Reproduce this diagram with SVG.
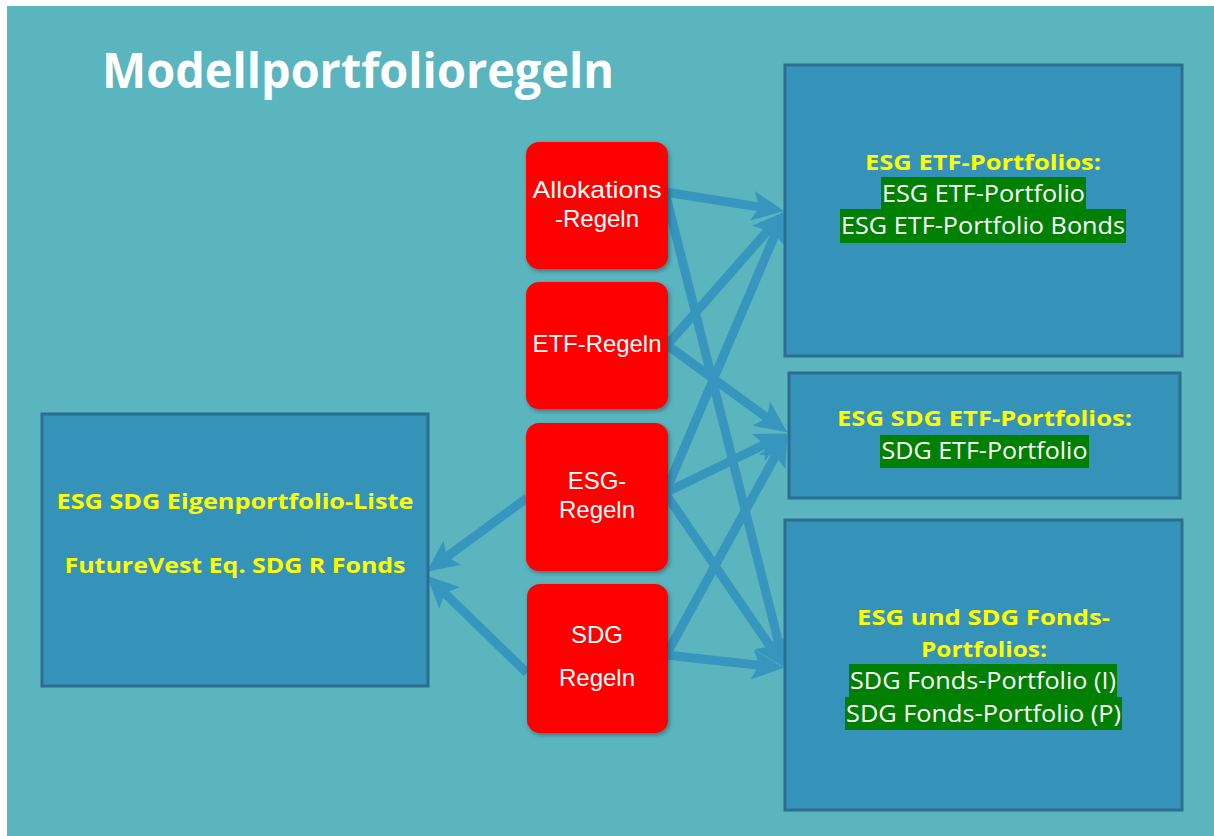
<svg xmlns="http://www.w3.org/2000/svg" width="1214" height="836" viewBox="0 0 1214 836">
<style>
.box{fill:#3593B9;stroke:#2B6F90;stroke-width:3}
.rule{fill:#FF0000}
.rt{font-family:"Liberation Sans",Arial,sans-serif;font-size:24px;fill:#FFFFFF;text-anchor:middle}
.yt{font-family:"Open Sans","Liberation Sans",sans-serif;font-size:22px;font-weight:bold;fill:#FFFF00;text-anchor:middle}
.wt{font-family:"Open Sans","Liberation Sans",sans-serif;font-size:23px;fill:#FFFFFF;text-anchor:middle}
.hl{fill:#008000}
.conn{stroke:#3896BE;stroke-width:9;fill:none;marker-end:url(#ah)}
</style>
<defs>
<marker id="ah" markerUnits="userSpaceOnUse" viewBox="0 0 32 30" refX="13" refY="15" markerWidth="32" markerHeight="30" orient="auto">
<path d="M0,0 L32,15 L0,30 L7,15 Z" fill="#3896BE"/>
</marker>
<filter id="sh" x="-10%" y="-10%" width="125%" height="125%">
<feDropShadow dx="1.5" dy="2" stdDeviation="2" flood-color="#000000" flood-opacity="0.35"/>
</filter>
</defs>
<rect x="0" y="0" width="1214" height="836" fill="#FFFFFF"/>
<rect x="7" y="6" width="1207" height="830" fill="#5AB5BF"/>
<text x="102" y="88" font-family="'Open Sans','Liberation Sans',sans-serif" font-size="48" font-weight="bold" fill="#FFFFFF" textLength="512" lengthAdjust="spacingAndGlyphs">Modellportfolioregeln</text>

<g id="connectors">
<line class="conn" x1="665" y1="192" x2="765.2" y2="207.9"/>
<line class="conn" x1="665" y1="192" x2="780.1" y2="648.6"/>
<line class="conn" x1="667" y1="345" x2="771.8" y2="226.0"/>
<line class="conn" x1="667" y1="345" x2="771.8" y2="421.2"/>
<line class="conn" x1="665" y1="493" x2="777.2" y2="229.4"/>
<line class="conn" x1="665" y1="493" x2="770.0" y2="441.8"/>
<line class="conn" x1="665" y1="493" x2="773.7" y2="651.5"/>
<line class="conn" x1="666" y1="655" x2="778.4" y2="450.5"/>
<line class="conn" x1="666" y1="655" x2="765.1" y2="665.8"/>
<line class="conn" x1="527" y1="498" x2="441.9" y2="560.4"/>
<line class="conn" x1="527" y1="673" x2="440.4" y2="588.9"/>
</g>

<g id="allokations">
<rect class="rule" x="526" y="142" width="142" height="127" rx="13" filter="url(#sh)"/>
<text class="rt" x="597" y="198" textLength="129" lengthAdjust="spacingAndGlyphs">Allokations</text>
<text class="rt" x="597" y="227">-Regeln</text>
</g>
<g id="etf-regeln">
<rect class="rule" x="526" y="282" width="142" height="127" rx="13" filter="url(#sh)"/>
<text class="rt" x="597" y="352" textLength="129" lengthAdjust="spacingAndGlyphs">ETF-Regeln</text>
</g>
<g id="esg-regeln">
<rect class="rule" x="526" y="423" width="142" height="148" rx="13" filter="url(#sh)"/>
<text class="rt" x="597" y="489">ESG-</text>
<text class="rt" x="597" y="518">Regeln</text>
</g>
<g id="sdg-regeln">
<rect class="rule" x="527" y="584" width="141" height="149" rx="13" filter="url(#sh)"/>
<text class="rt" x="597" y="643">SDG</text>
<text class="rt" x="597" y="686">Regeln</text>
</g>

<g id="eigenportfolio">
<rect class="box" x="42" y="414" width="386" height="272"/>
<text class="yt" x="235" y="509" textLength="357" lengthAdjust="spacingAndGlyphs">ESG SDG Eigenportfolio-Liste</text>
<text class="yt" x="235" y="573" textLength="341" lengthAdjust="spacingAndGlyphs">FutureVest Eq. SDG R Fonds</text>
</g>

<g id="esg-etf">
<rect class="box" x="785" y="65" width="397" height="291"/>
<text class="yt" x="983" y="170" textLength="236" lengthAdjust="spacingAndGlyphs">ESG ETF-Portfolios:</text>
<rect class="hl" x="881" y="177" width="205" height="32"/>
<rect class="hl" x="840" y="209" width="286" height="34"/>
<text class="wt" x="983.5" y="202" textLength="203" lengthAdjust="spacingAndGlyphs">ESG ETF-Portfolio</text>
<text class="wt" x="983" y="234" textLength="284" lengthAdjust="spacingAndGlyphs">ESG ETF-Portfolio Bonds</text>
</g>

<g id="esg-sdg-etf">
<rect class="box" x="789" y="373" width="391" height="125"/>
<text class="yt" x="984.5" y="426" textLength="295" lengthAdjust="spacingAndGlyphs">ESG SDG ETF-Portfolios:</text>
<rect class="hl" x="880" y="435" width="209" height="33"/>
<text class="wt" x="984.5" y="459" textLength="206" lengthAdjust="spacingAndGlyphs">SDG ETF-Portfolio</text>
</g>

<g id="fonds">
<rect class="box" x="785" y="520" width="397" height="290"/>
<text class="yt" x="983.5" y="625" textLength="253" lengthAdjust="spacingAndGlyphs">ESG und SDG Fonds-</text>
<text class="yt" x="984" y="657" textLength="126" lengthAdjust="spacingAndGlyphs">Portfolios:</text>
<rect class="hl" x="849" y="664" width="268" height="33"/>
<rect class="hl" x="845" y="697" width="277" height="33"/>
<text class="wt" x="983" y="689" textLength="266" lengthAdjust="spacingAndGlyphs">SDG Fonds-Portfolio (I)</text>
<text class="wt" x="983.5" y="722" textLength="275" lengthAdjust="spacingAndGlyphs">SDG Fonds-Portfolio (P)</text>
</g>
</svg>
